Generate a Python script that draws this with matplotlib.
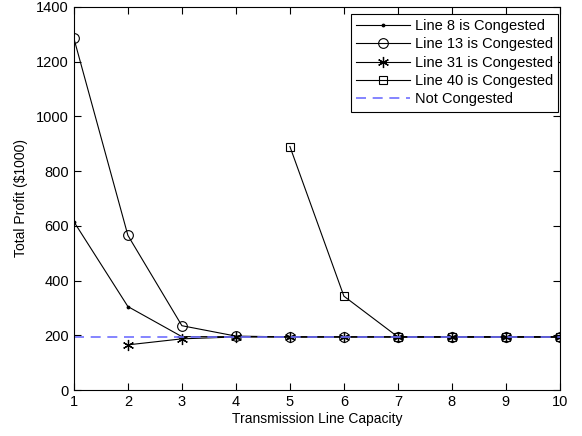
import matplotlib
matplotlib.use('Agg')
import matplotlib.pyplot as plt

plt.rcParams['font.family'] = ['Liberation Sans', 'DejaVu Sans']

# Data
capacity = [1, 2, 3, 4, 5, 6, 7, 8, 9, 10]
line8 = [615, 305, 195, 195, 194, 194, 194, 194, 194, 194]
line13_x = [1, 2, 3, 4, 5, 6, 7, 8, 9, 10]
line13 = [1285, 565, 235, 197, 194, 194, 194, 194, 194, 194]
line31_x = [2, 3, 4, 5, 6, 7, 8, 9, 10]
line31 = [165, 187, 194, 194, 194, 194, 194, 194, 194]
line40_x = [5, 6, 7, 8, 9, 10]
line40 = [890, 343, 194, 194, 194, 194]
not_congested = [193] * 10

fig = plt.figure(figsize=(5.82, 4.36), dpi=100)
ax = fig.add_axes([0.127, 0.1055, 0.835, 0.8785])

ax.plot(capacity, line8, 'k-', marker='.', markersize=3.5, linewidth=0.8, label='Line 8 is Congested')
ax.plot(line13_x, line13, 'k-', marker='o', markersize=7, markerfacecolor='none',
        markeredgewidth=0.8, linewidth=0.8, label='Line 13 is Congested')
ax.plot(line31_x, line31, 'k-', marker=(6, 2, 0), markersize=8, markeredgewidth=0.9,
        linewidth=0.8, label='Line 31 is Congested')
ax.plot(line40_x, line40, 'k-', marker='s', markersize=6, markerfacecolor='none',
        markeredgewidth=0.8, linewidth=0.8, label='Line 40 is Congested')
ax.plot(capacity, not_congested, '--', color='#7070ff', linewidth=1.2, dashes=(6, 4), label='Not Congested')

ax.set_xlim(1, 10)
ax.set_ylim(0, 1400)
ax.set_xticks(capacity)
ax.set_yticks(range(0, 1401, 200))
ax.tick_params(direction='in', top=True, right=True, labelsize=10.5, length=5)
for s in ax.spines.values():
    s.set_linewidth(0.8)
ax.set_xlabel('Transmission Line Capacity', fontsize=10, labelpad=2)
ax.set_ylabel('Total Profit ($1000)', fontsize=10, labelpad=6)

leg = ax.legend(loc='upper right', bbox_to_anchor=(0.996, 0.982), fontsize=10.5,
                fancybox=False, framealpha=1, edgecolor='black', borderpad=0.35,
                labelspacing=0.3, handlelength=3.7, handletextpad=0.3, borderaxespad=0)
leg.get_frame().set_linewidth(0.8)

fig.savefig('out.png', dpi=100)
